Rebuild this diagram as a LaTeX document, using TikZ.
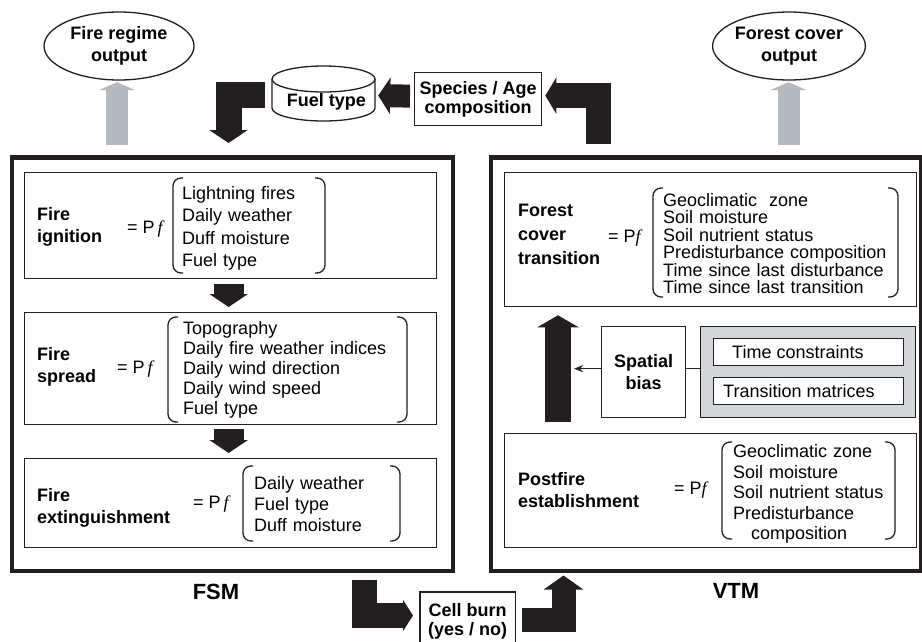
\documentclass[tikz,border=0pt]{standalone}
\usepackage{fontspec}
\setmainfont{Liberation Sans}
\newfontfamily\pffont{Liberation Serif}
\usetikzlibrary{arrows.meta,calc,shapes.geometric}
\definecolor{inkc}{HTML}{231F20}
\definecolor{outgray}{HTML}{B4BAC2}
\definecolor{panelgray}{HTML}{D3D5D9}
\begin{document}
\begin{tikzpicture}[x=1pt,y=-1pt,
  headtext/.style={font=\bfseries\fontsize{18}{22}\selectfont, inner sep=0pt, align=left, text width=200pt, anchor=base west},
  itemlist/.style={inner sep=0pt, align=left, text width=260pt, anchor=base west},
  pf/.style={inner sep=0pt, anchor=base west, font=\fontsize{18}{22}\selectfont},
  outerbox/.style={draw=inkc, line width=4.5pt, inner sep=0pt, anchor=north west},
  innerbox/.style={draw=inkc, line width=1.3pt, inner sep=0pt, anchor=north west},
  bracketline/.style={draw=inkc, line width=1.3pt, rounded corners=8pt},
  fat/.style n args={3}{draw=inkc, line width=#1, line join=miter, -{Triangle[width=#2,length=#3]}},
  grayarrow/.style={draw=outgray, line width=22pt, -{Triangle[width=36pt,length=8pt]}},
  output/.style={ellipse, draw=inkc, line width=1.3pt, inner sep=0pt, minimum width=150pt, minimum height=68pt, align=center, font=\bfseries\fontsize{18}{22}\selectfont},
  titletext/.style={font=\bfseries\fontsize{22}{26}\selectfont, inner sep=0pt},
  plaintext/.style={inner sep=0pt, font=\fontsize{18}{22}\selectfont}
]
\useasboundingbox (0,0) rectangle (922,641);
\clip (0,0) rectangle (922,641);

% Output ellipses
\node[output] (fro) at (119,46) {Fire regime\\output};
\node[output, minimum width=146pt] (fco) at (789,46) {Forest cover\\output};

% The two model frames
\node[outerbox, minimum width=441pt, minimum height=413.5pt] (fsm) at (9.5,155) {};
\node[outerbox, minimum width=430pt, minimum height=413.5pt] (vtm) at (488.5,155) {};
\node[titletext] (fsmt) at (216,592) {FSM};
\node[titletext] (vtmt) at (736,591) {VTM};

% Fuel type store (cylinder)
\draw[draw=inkc, line width=1.3pt, fill=white] (272,79) -- (272,108)
  arc[start angle=180, end angle=0, x radius=51.5, y radius=13] -- (375,79);
\draw[draw=inkc, line width=1.3pt] (323.5,79) ellipse[x radius=51.5, y radius=13];
\node[inner sep=0pt, minimum width=103pt, minimum height=55pt] (fuel) at (323.5,93.5) {};
\node[inner sep=0pt, font=\bfseries\fontsize{18}{22}\selectfont] (fueltxt) at (326.5,102) {Fuel type};

% Species / age composition
\node[innerbox, minimum width=127pt, minimum height=53pt, align=center,
  font=\bfseries\fontsize{18}{19.5}\selectfont] (spc) at (414,72) {Species / Age\\composition};

% Cell burn (box open at the lower page edge)
\node[inner sep=0pt, anchor=north west, minimum width=95pt, minimum height=59pt, align=center,
  font=\bfseries\fontsize{18}{19}\selectfont] (cb) at (420,592) {Cell burn\\(yes / no)};
\draw[draw=inkc, line width=1.3pt] (cb.south west) -- (cb.north west) -- (cb.north east) -- (cb.south east);

% ---------- FSM: fire ignition ----------
\node[innerbox, minimum width=412pt, minimum height=106pt] (ign) at (24,172) {};
\node[headtext] (ignt) at (37,220.5) {Fire\\ignition};
\node[pf] (ignpf) at (127,233) {= P\,{\pffont\itshape f}};
\node[itemlist, font=\fontsize{18}{22.3}\selectfont] (ignl) at (182,199.5)
  {Lightning fires\\Daily weather\\Duff moisture\\Fuel type};
\draw[bracketline] (183,178) -- (173,178) -- (173,273) -- (183,273);
\draw[bracketline] (315,178) -- (325,178) -- (325,273) -- (315,273);

% ---------- FSM: fire spread ----------
\node[innerbox, minimum width=412pt, minimum height=112pt] (spr) at (24,312) {};
\node[headtext] (sprt) at (37,360.5) {Fire\\spread};
\node[pf] (sprpf) at (117,373) {= P\,{\pffont\itshape f}};
\node[itemlist, font=\fontsize{18}{20}\selectfont] (sprl) at (183,334.5)
  {Topography\\Daily fire weather indices\\Daily wind direction\\Daily wind speed\\Fuel type};
\draw[bracketline] (178,317) -- (168,317) -- (168,422) -- (178,422);
\draw[bracketline] (397,317) -- (407,317) -- (407,422) -- (397,422);

% ---------- FSM: fire extinguishment ----------
\node[innerbox, minimum width=412pt, minimum height=89pt] (ext) at (24,458) {};
\node[headtext] (extt) at (37,501.5) {Fire\\extinguishment};
\node[pf] (extpf) at (193,508) {= P\,{\pffont\itshape f}};
\node[itemlist, font=\fontsize{18}{21}\selectfont] (extl) at (254,489.5)
  {Daily weather\\Fuel type\\Duff moisture};
\draw[bracketline] (253,466) -- (243,466) -- (243,541) -- (253,541);
\draw[bracketline] (390,466) -- (400,466) -- (400,541) -- (390,541);

% ---------- VTM: forest cover transition ----------
\node[innerbox, minimum width=412pt, minimum height=134pt] (fct) at (504,172) {};
\node[headtext, font=\bfseries\fontsize{18}{24}\selectfont] (fctt) at (518,216.5) {Forest\\cover\\transition};
\node[pf] (fctpf) at (608,242) {= P{\pffont\itshape f}};
\node[itemlist, font=\fontsize{18}{17.4}\selectfont] (fctl) at (663,206.5)
  {Geoclimatic~ zone\\Soil moisture\\Soil nutrient status\\Predisturbance composition\\Time since last disturbance\\Time since last transition};
\draw[bracketline] (663,188) -- (653,188) -- (653,297) -- (663,297);
\draw[bracketline] (888,188) -- (898,188) -- (898,297) -- (888,297);

% ---------- VTM: spatial bias and constraints ----------
\node[innerbox, minimum width=84pt, minimum height=91pt, align=center,
  font=\bfseries\fontsize{18}{22}\selectfont] (sb) at (601,326) {Spatial\\bias};
\node[innerbox, fill=panelgray, minimum width=215pt, minimum height=91pt] (panel) at (700,326) {};
\node[innerbox, fill=white, minimum width=190pt, minimum height=27pt] (tc) at (713,338) {};
\node[plaintext, anchor=west] (tctxt) at ($(tc.west)+(19,0)$) {Time constraints};
\node[innerbox, fill=white, minimum width=190pt, minimum height=27pt] (tm) at (713,377) {};
\node[plaintext, anchor=west] (tmtxt) at ($(tm.west)+(10,0)$) {Transition matrices};

% ---------- VTM: postfire establishment ----------
\node[innerbox, minimum width=412pt, minimum height=114pt] (pfe) at (504,433) {};
\node[headtext] (pfet) at (518,485.5) {Postfire\\establishment};
\node[pf] (pfepf) at (674,494) {= P{\pffont\itshape f}};
\node[itemlist, font=\fontsize{18}{20.5}\selectfont] (pfel) at (733,457.5)
  {Geoclimatic zone\\Soil moisture\\Soil nutrient status\\Predisturbance\\\hspace*{18pt}composition};
\draw[bracketline] (732,442) -- (722,442) -- (722,539) -- (732,539);
\draw[bracketline] (885,442) -- (895,442) -- (895,539) -- (885,539);

% ---------- Flow arrows ----------
\draw[grayarrow] ($(fsm.north west)+(107.5,-10)$) -- ($(fro.south)+(-2,1.5)$);
\draw[grayarrow] ($(vtm.north west)+(300,-10)$) -- ($(fco.south)+(-0.5,1.5)$);

\draw[fat={26pt}{38pt}{13pt}] ($(fuel.west)+(-7,1)$) -| ($(fsm.north west)+(219,-12)$);
\draw[fat={23pt}{36pt}{12pt}] ($(spc.west)+(-4,-3)$) -- ($(fuel.east)+(3,2)$);
\draw[fat={25pt}{36pt}{11pt}] ($(vtm.north west)+(109.5,-11)$) |- ($(spc.east)+(3,-3.5)$);

\draw[fat={30pt}{38pt}{13pt}] ($(ign.south)+(-2,5)$) -- ($(spr.north)+(-2,-5)$);
\draw[fat={30pt}{38pt}{13pt}] ($(spr.south)+(-2,4)$) -- ($(ext.north)+(-2,-5)$);

\draw[fat={26pt}{41pt}{12pt}] ($(pfe.north west)+(54,-11)$) -- ($(fct.south west)+(54,8)$);
\draw[draw=inkc, line width=1.5pt, -{Stealth[length=9pt,width=7pt]}] ($(sb.west)+(0,-3.5)$) -- ++(-27,0);
\draw[draw=inkc, line width=1.5pt] ($(sb.east)+(0,-3.5)$) -- ($(panel.west)+(0,-3.5)$);

\draw[fat={25pt}{31pt}{10pt}] ($(fsm.south west)+(355,7)$) |- ($(cb.north west)+(-7,23.5)$);
\draw[fat={24pt}{39pt}{14pt}] ($(cb.north east)+(7,27.5)$) -| ($(vtm.south west)+(75,2.5)$);
\end{tikzpicture}
\end{document}
